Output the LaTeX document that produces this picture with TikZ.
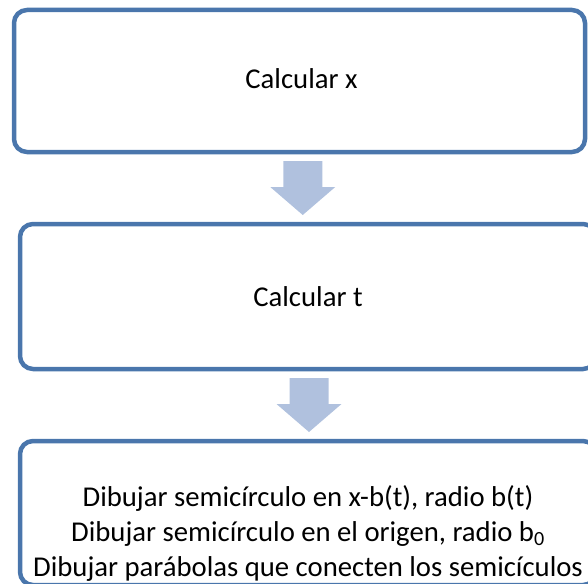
\documentclass[tikz,border=0pt]{standalone}
\usepackage{fontspec}
\setmainfont{Carlito}
\usetikzlibrary{calc}

\definecolor{boxblue}{RGB}{74,118,172}
\definecolor{arrowblue}{RGB}{176,193,222}

\tikzset{
    stage/.style={draw=boxblue, line width=4.5pt, rounded corners=13pt,
        inner sep=0pt, align=center},
    flecha/.pic={
        \fill [arrowblue] (-19.5,-27) -- (19.5,-27) -- (19.5,-1) -- (32.5,-1)
            -- (0,27) -- (-32.5,-1) -- (-19.5,-1) -- cycle;
    }
}

\begin{document}
\begin{tikzpicture}[x=1pt, y=-1pt, font=\fontsize{28.7}{35}\selectfont]
    \useasboundingbox (0,0) rectangle (588,583);
    \node [stage, minimum width=571pt, minimum height=142pt] (B1) at (299.5, 81) {};
        \node [inner sep=0pt] (T1) at ($(B1.center) + (2, -2)$) {Calcular x};
        \node [stage, minimum width=576pt, minimum height=145pt] (B2) at (308, 296.5) {Calcular t};
        \node [stage, minimum width=576pt, minimum height=144pt] (B3) at (308, 513) {};
        \node [align=center, inner sep=0pt] (T3) at ($(B3.center) + (0, 20)$)
            {Dibujar semicírculo en x-b(t), radio b(t)\\
             Dibujar semicírculo en el origen, radio b\textsubscript{0}\\
             Dibujar parábolas que conecten los semicículos};
    \coordinate (F1) at ($(B1.south)!0.5!(B2.north) + (-1, 0)$);
    \coordinate (F2) at ($(B2.south)!0.5!(B3.north) + (1, 0)$);
    \pic at (F1) {flecha};
    \pic at (F2) {flecha};
\end{tikzpicture}
\end{document}
